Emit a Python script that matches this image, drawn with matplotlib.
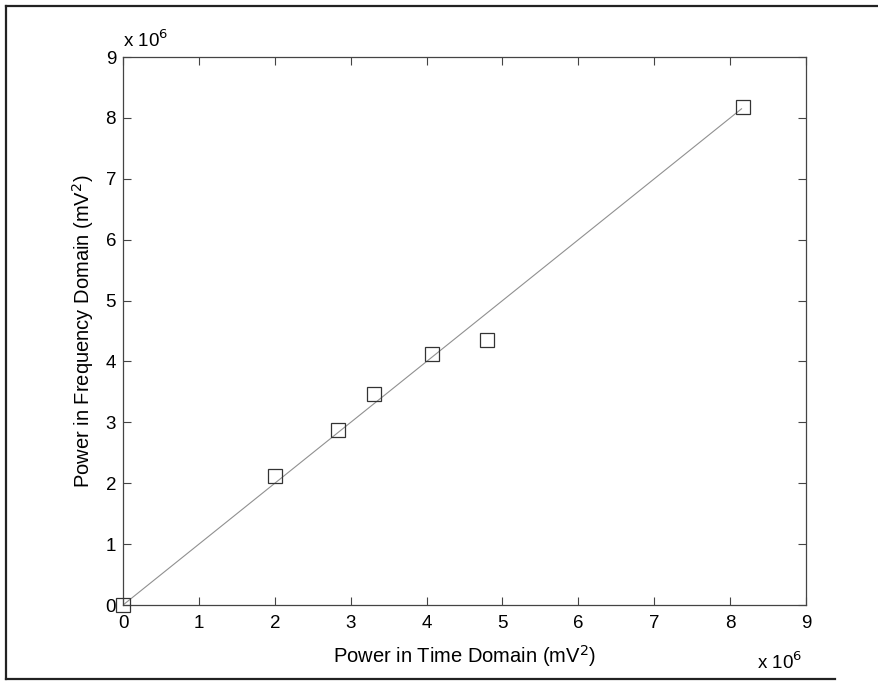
import matplotlib
matplotlib.use("Agg")
import matplotlib.pyplot as plt
from matplotlib.lines import Line2D

plt.rcParams['font.family'] = ['Liberation Sans', 'DejaVu Sans']

# Measured powers (units of 1e6 mV^2)
time_power = [0.0, 2.0, 2.83, 3.31, 4.07, 4.80, 8.17]
freq_power = [0.0, 2.12, 2.87, 3.46, 4.12, 4.35, 8.18]

# Reference line (unity relation) endpoints
fit_x = [0.0, 8.15]
fit_y = [0.0, 8.15]

ticks = list(range(0, 10))
tick_labels = [str(t) for t in ticks]

fig = plt.figure(figsize=(8.79, 6.83), dpi=100)
ax = fig.add_axes([0.140, 0.1142, 0.777, 0.8023])

ax.plot(fit_x, fit_y, color='#909090', lw=0.8, zorder=2)
ax.plot(time_power, freq_power, linestyle='none', marker='s', markersize=9.5,
        markerfacecolor='none', markeredgecolor='#333333', markeredgewidth=0.9,
        zorder=3, clip_on=False)

ax.set_xlim(0, 9)
ax.set_ylim(0, 9)
ax.set_xticks(ticks)
ax.set_yticks(ticks)
ax.set_xticklabels(tick_labels)
ax.set_yticklabels(tick_labels)
ax.tick_params(direction='in', length=6, width=0.8, color='#444444',
               top=True, right=True, labelsize=13.5)
ax.tick_params(axis='x', pad=7)
ax.tick_params(axis='y', pad=5)
for s in ax.spines.values():
    s.set_color('#444444')
    s.set_linewidth(0.9)

ax.set_xlabel('Power in Time Domain (mV$^2$)', fontsize=14.5, labelpad=8)
ax.set_ylabel('Power in Frequency Domain (mV$^2$)', fontsize=14.5, labelpad=7)

# Scale factors
fig.text(123 / 879, 1 - 40 / 683, r'x 10$^6$', fontsize=13.5, va='center', ha='left')
fig.text(757 / 879, 1 - 662 / 683, r'x 10$^6$', fontsize=13.5, va='center', ha='left')

# Outer frame
frame_kw = dict(color='#222222', lw=1.6, transform=fig.transFigure)
fig.add_artist(Line2D([6 / 879, 6 / 879], [1 - 6 / 683, 1 - 679 / 683], **frame_kw))
fig.add_artist(Line2D([6 / 879, 1.0], [1 - 6 / 683, 1 - 6 / 683], **frame_kw))
fig.add_artist(Line2D([6 / 879, 835 / 879], [1 - 679 / 683, 1 - 679 / 683], **frame_kw))

fig.savefig('out.png', dpi=100)
